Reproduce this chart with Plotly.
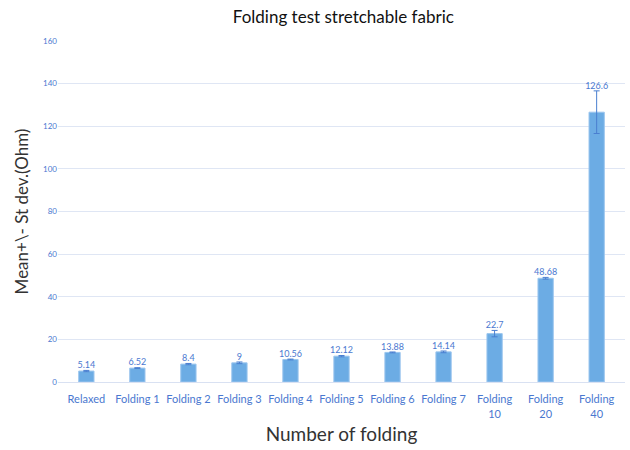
import plotly.graph_objects as go

categories = ["Relaxed", "Folding 1", "Folding 2", "Folding 3", "Folding 4", "Folding 5",
              "Folding 6", "Folding 7", "Folding<br>10", "Folding<br>20", "Folding<br>40"]
means = [5.14, 6.52, 8.4, 9, 10.56, 12.12, 13.88, 14.14, 22.7, 48.68, 126.6]
std_devs = [0.3, 0.2, 0.3, 0.4, 0.2, 0.3, 0.2, 0.4, 1.5, 0.4, 10.0]
labels = ["5.14", "6.52", "8.4", "9", "10.56", "12.12", "13.88", "14.14", "22.7", "48.68", "126.6"]

bar_color = "#6cace4"
text_blue = "#4a78d0"

bars = go.Bar(
    x=categories,
    y=means,
    width=0.30,
    marker=dict(color=bar_color, line=dict(color="#9cc6ee", width=1)),
    error_y=dict(type="data", array=std_devs, visible=True,
                 color="#4a7fd0", thickness=1, width=3),
    showlegend=False,
)

# value labels sit just above the error bar
value_text = go.Scatter(
    x=categories,
    y=[m + s for m, s in zip(means, std_devs)],
    mode="text",
    text=labels,
    textposition="top center",
    textfont=dict(family="Lato, Open Sans, sans-serif", size=9, color=text_blue),
    showlegend=False,
    hoverinfo="skip",
)

fig = go.Figure(data=[bars, value_text])

fig.update_layout(
    width=630,
    height=450,
    paper_bgcolor="white",
    plot_bgcolor="white",
    margin=dict(l=58, r=5, t=41, b=68),
    font=dict(family="Lato, Open Sans, sans-serif"),
    title=dict(text="Folding test stretchable fabric", x=0.545, xanchor="center",
               y=0.962, yanchor="middle", yref="container",
               font=dict(size=17, color="#111111")),
    bargap=0.68,
)

fig.update_xaxes(
    title=dict(text="Number of folding", font=dict(size=19, color="#333333"), standoff=9),
    tickfont=dict(size=11, color=text_blue),
    ticklabelstandoff=7,
    showline=True, linecolor="#d9e1f2", linewidth=1,
    ticks="", showgrid=False,
    automargin=False,
)

fig.update_yaxes(
    title=dict(text="Mean+\\- St dev.(Ohm)", font=dict(size=17, color="#333333"), standoff=10),
    range=[0, 160],
    dtick=20,
    tickfont=dict(size=8, color=text_blue),
    gridcolor="#dfe6f4", gridwidth=1,
    zeroline=False,
    ticks="",
    automargin=False,
)

# drop the browser's default page margin so the 630x450 figure fills the window
fig.write_html("out.html", config={"displayModeBar": False},
               post_script="document.body.style.margin='0px';")
